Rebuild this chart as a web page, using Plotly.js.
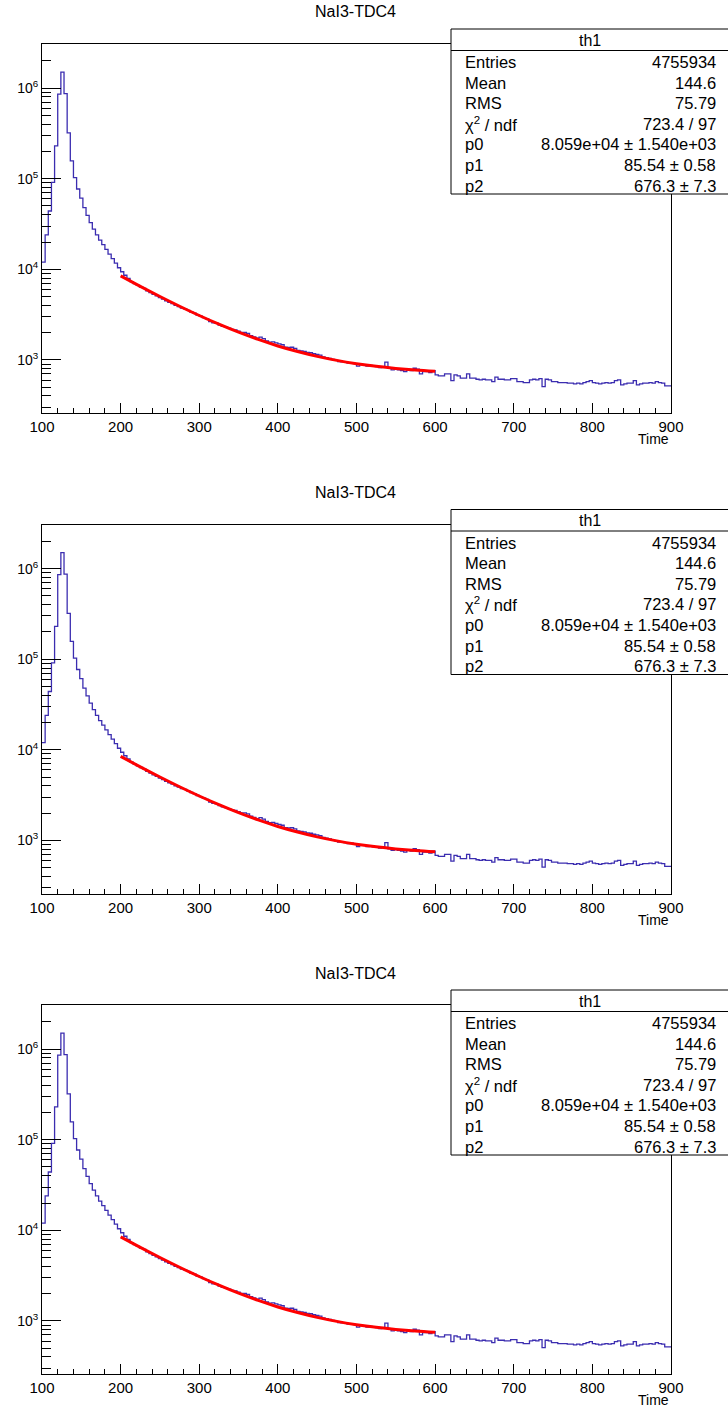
<!DOCTYPE html>
<html>
<head>
<meta charset="utf-8">
<script src="https://cdn.plot.ly/plotly-3.0.1.min.js"></script>
<style>
html,body{margin:0;padding:0;background:#ffffff;}
#plot{width:728px;height:1407px;}
</style>
</head>
<body>
<div id="plot"></div>
<script>
// ---------------- data ----------------
const histTitle = 'NaI3-TDC4';
const xAxisTitle = 'Time';
const binStart = 100;
const binWidth = 4;
const counts = [
  12000, 24000, 44000, 91000, 230000, 860000, 1500000, 870000, 320000, 157000,
  103000, 77000, 61000, 48000, 39300, 32800, 27800, 24000, 21000, 18700,
  16600, 14700, 13100, 11700, 10400, 9400, 8600, 7950,
  7300, 6950, 6650, 6380, 6150, 5800, 5520, 5300, 5100, 4870,
  4700, 4500, 4330, 4180, 4000, 3880, 3720, 3650, 3530, 3380,
  3290, 3130, 3050, 2930, 2840, 2650, 2560, 2540, 2430, 2340,
  2300, 2240, 2170, 2140, 2080, 2010, 2010, 1960, 1850, 1800,
  1740, 1780, 1720, 1620, 1570, 1580, 1540, 1500, 1470, 1380,
  1370, 1380, 1340, 1270, 1260, 1240, 1210, 1200, 1170, 1150,
  1130, 1080, 1060, 1040, 1010, 990, 960, 950, 945, 920,
  930, 910, 855, 890, 880, 855, 870, 850, 845, 820,
  844, 944, 809, 776, 790, 776, 763, 743, 776, 763, 809, 790, 701, 743, 743, 725, 763,
  683, 666, 666, 701, 701, 591, 683, 666, 628, 628,
  701, 628, 628, 612, 602, 612, 602, 602, 577, 644,
  612, 612, 602, 602, 622, 622, 577, 577, 562, 562,
  602, 612, 602, 622, 508, 612, 602, 577, 577, 562,
  562, 562, 553, 553, 543, 553, 543, 562, 577, 591,
  562, 553, 543, 553, 562, 553, 562, 591, 602, 530,
  543, 553, 553, 591, 530, 543, 553, 553, 562, 553,
  577, 562, 553, 516, 516
];
const fitX = [200, 225, 250, 275, 300, 325, 350, 375, 400, 425, 450, 475, 500, 525, 550, 575, 600];
const fitY = [8455, 6482, 5011, 3912, 3091, 2480, 2023, 1682, 1426, 1236, 1094, 988, 909, 850, 806, 773, 749];
const xTickVals = [100, 200, 300, 400, 500, 600, 700, 800, 900];
const xTickText = ['100', '200', '300', '400', '500', '600', '700', '800', '900'];
const yTickVals = [1e3, 1e4, 1e5, 1e6];
const yTickText = ['10<sup>3</sup>', '10<sup>4</sup>', '10<sup>5</sup>', '10<sup>6</sup>'];
const yMinorVals = [300, 400, 500, 600, 700, 800, 900,
  2000, 3000, 4000, 5000, 6000, 7000, 8000, 9000,
  20000, 30000, 40000, 50000, 60000, 70000, 80000, 90000,
  200000, 300000, 400000, 500000, 600000, 700000, 800000, 900000,
  2000000];
const statsName = 'th1';
const statsLabels = ['Entries', 'Mean', 'RMS', '\u03c7<sup>2</sup> / ndf', 'p0', 'p1', 'p2'];
const statsValues = ['4755934', '144.6', '75.79', '723.4 / 97', '8.059e+04 \u00b1 1.540e+03', '85.54 \u00b1 0.58', '676.3 \u00b1 7.3'];

// ---------------- build ----------------
const edges = counts.map((_, i) => binStart + i * binWidth);
edges.push(binStart + counts.length * binWidth);
const stepY = counts.concat([counts[counts.length - 1]]);

const W = 728, H = 1407;
const fx = p => p / W;
const fy = p => 1 - p / H;
const PANEL_DY = 480.5;
const FRAME = {l: 42, r: 671, t: 44, b: 413};
const FONT = 'Liberation Sans, Arial, Helvetica, sans-serif';
const histColor = '#3b2db0';
const Y_RANGE = [2.414, 6.487];

const traces = [];
const layout = {
  width: W, height: H,
  margin: {l: 0, r: 0, t: 0, b: 0},
  paper_bgcolor: '#ffffff',
  plot_bgcolor: '#ffffff',
  showlegend: false,
  font: {family: FONT, color: '#000000'},
  shapes: [],
  annotations: []
};

for (let k = 0; k < 3; k++) {
  const dy = k * PANEL_DY;
  const n = k + 1;
  const xs = n === 1 ? 'x' : 'x' + n;
  const ys = n === 1 ? 'y' : 'y' + n;
  const xk = n === 1 ? 'xaxis' : 'xaxis' + n;
  const yk = n === 1 ? 'yaxis' : 'yaxis' + n;
  const ymName = 'y' + (n + 3);
  const ymKey = 'yaxis' + (n + 3);

  traces.push({
    type: 'scatter', mode: 'lines',
    x: edges, y: stepY,
    line: {shape: 'hv', color: histColor, width: 1.3},
    xaxis: xs, yaxis: ys, hoverinfo: 'skip'
  });
  traces.push({
    type: 'scatter', mode: 'lines',
    x: fitX, y: fitY,
    line: {shape: 'spline', color: '#ff0000', width: 3},
    xaxis: xs, yaxis: ys, hoverinfo: 'skip'
  });
  // invisible carrier so the minor-tick overlay axis is drawn
  traces.push({
    type: 'scatter', mode: 'markers',
    x: [fitX[0]], y: [fitY[0]],
    marker: {opacity: 0, size: 1},
    xaxis: xs, yaxis: ymName, hoverinfo: 'skip'
  });

  layout[xk] = {
    domain: [fx(FRAME.l), fx(FRAME.r)],
    anchor: ys,
    range: [100, 900],
    tickmode: 'array', tickvals: xTickVals, ticktext: xTickText,
    ticks: 'inside', ticklen: 10, tickwidth: 1, tickcolor: '#000',
    tickfont: {size: 15, family: FONT, color: '#000'},
    showline: true, linecolor: '#000', linewidth: 1, mirror: true,
    showgrid: false, zeroline: false,
    minor: {tick0: 100, dtick: 20, ticks: 'inside', ticklen: 5, tickwidth: 1, tickcolor: '#000', showgrid: false}
  };
  layout[yk] = {
    domain: [fy(FRAME.b + dy), fy(FRAME.t + dy)],
    anchor: xs,
    type: 'log',
    range: Y_RANGE,
    tickmode: 'array', tickvals: yTickVals, ticktext: yTickText,
    ticks: 'inside', ticklen: 19, tickwidth: 1, tickcolor: '#000',
    tickfont: {size: 14, family: FONT, color: '#000'},
    showline: true, linecolor: '#000', linewidth: 1, mirror: true,
    showgrid: false, zeroline: false
  };
  layout[ymKey] = {
    overlaying: ys,
    anchor: xs,
    side: 'left',
    type: 'log',
    range: Y_RANGE,
    tickmode: 'array', tickvals: yMinorVals,
    ticks: 'inside', ticklen: 9, tickwidth: 1, tickcolor: '#000',
    showticklabels: false,
    showline: false, showgrid: false, zeroline: false
  };

  // title
  layout.annotations.push({
    xref: 'paper', yref: 'paper', x: fx(355), y: fy(12 + dy),
    xanchor: 'center', yanchor: 'middle', showarrow: false,
    text: histTitle, font: {size: 16, family: FONT, color: '#000'}
  });
  // x axis title
  layout.annotations.push({
    xref: 'paper', yref: 'paper', x: fx(FRAME.r), y: fy(439 + dy),
    xanchor: 'right', yanchor: 'middle', showarrow: false,
    text: xAxisTitle, font: {size: 14, family: FONT, color: '#000'}
  });

  // stats box
  layout.shapes.push({
    type: 'rect', xref: 'paper', yref: 'paper', layer: 'above',
    x0: fx(451), x1: fx(730), y0: fy(194 + dy), y1: fy(29 + dy),
    fillcolor: '#ffffff', line: {color: '#000', width: 1}
  });
  layout.shapes.push({
    type: 'line', xref: 'paper', yref: 'paper', layer: 'above',
    x0: fx(451), x1: fx(730), y0: fy(50.5 + dy), y1: fy(50.5 + dy),
    line: {color: '#000', width: 1}
  });
  layout.annotations.push({
    xref: 'paper', yref: 'paper', x: fx(590), y: fy(40 + dy),
    xanchor: 'center', yanchor: 'middle', showarrow: false,
    text: statsName, font: {size: 16, family: FONT, color: '#000'}
  });
  for (let r = 0; r < statsLabels.length; r++) {
    const yy = fy(62 + r * 20.6 + dy);
    layout.annotations.push({
      xref: 'paper', yref: 'paper', x: fx(463), y: yy,
      xanchor: 'left', yanchor: 'middle', showarrow: false,
      text: statsLabels[r], font: {size: 16.5, family: FONT, color: '#000'}
    });
    layout.annotations.push({
      xref: 'paper', yref: 'paper', x: fx(718), y: yy,
      xanchor: 'right', yanchor: 'middle', showarrow: false,
      text: statsValues[r], font: {size: 16.5, family: FONT, color: '#000'}
    });
  }
}

Plotly.newPlot('plot', traces, layout, {staticPlot: true, displayModeBar: false});
</script>
</body>
</html>
